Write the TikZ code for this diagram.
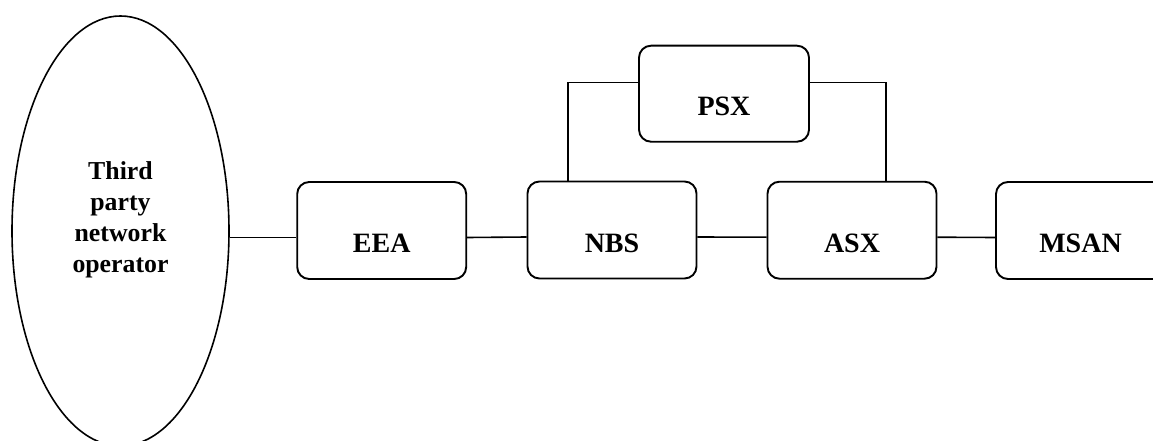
\documentclass[tikz,border=0pt]{standalone}
\usepackage{fontspec}
\setmainfont{Liberation Serif}
\usetikzlibrary{shapes.geometric}
\begin{document}
\begin{tikzpicture}[x=1pt,y=-1pt,
  box/.style={draw,line width=1.9pt,rounded corners=12pt,minimum width=169pt,minimum height=97pt,inner sep=0pt,
    font=\fontsize{28}{32}\selectfont\bfseries,text height=44pt,text depth=0pt},
  conn/.style={line width=1.6pt}]
\useasboundingbox (0,0) rectangle (1153,441);
\node[draw,ellipse,line width=1.6pt,minimum width=217pt,minimum height=430pt,inner sep=0pt] (ell) at (120.5,231) {};
\node[align=center,font=\fontsize{25.8}{31}\selectfont\bfseries,inner sep=0pt] (elltext) at (120.5,220) {Third\\party\\network\\operator};
\node[box] (EEA) at (381.7,230.5) {EEA};
\node[box] (NBS) at (612,230) {NBS};
\node[box] (ASX) at (852,230.2) {ASX};
\node[box] (MSAN) at (1080.5,230.5) {MSAN};
\node[box,minimum width=170pt,minimum height=96pt] (PSX) at (724,93.7) {PSX};
\path ([yshift=-7pt]EEA.west) coordinate (e1);
\draw[conn] (e1) -- (e1 -| ell.east);
\draw[conn] ([yshift=-7pt]EEA.east) -- ([yshift=-7pt]NBS.west);
\draw[conn] ([yshift=-7pt]NBS.east) -- ([yshift=-7pt]ASX.west);
\draw[conn] ([yshift=-7pt]ASX.east) -- ([yshift=-7pt]MSAN.west);
\draw[conn] ([yshift=11pt]PSX.west) -| ([xshift=-44pt]NBS.north);
\draw[conn] ([yshift=11pt]PSX.east) -| ([xshift=34pt]ASX.north);
\end{tikzpicture}
\end{document}
